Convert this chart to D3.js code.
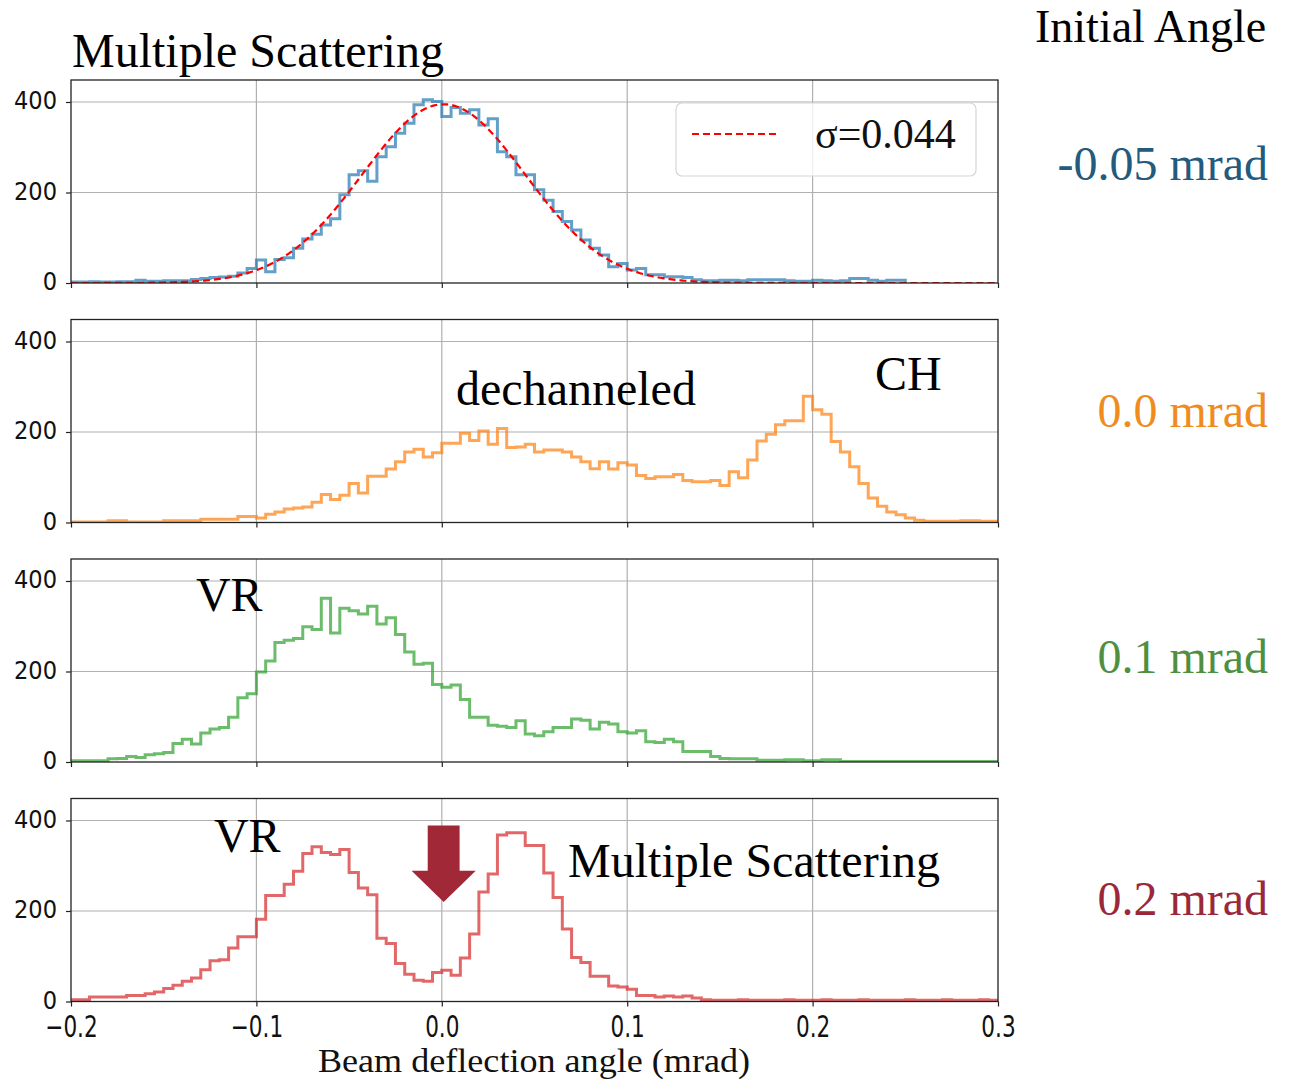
<!DOCTYPE html>
<html>
<head>
<meta charset="utf-8">
<script src="https://cdn.jsdelivr.net/npm/d3@7"></script>
<style>
body { margin: 0; background: #fff; }
svg text { font-family: "Liberation Serif", "Times New Roman", serif; }
.tick text { font-family: "DejaVu Sans", sans-serif; }
</style>
</head>
<body>
<div class="canvas"></div>
<script>
// histogram bins: 0.005 mrad wide, starting at -0.2
var BIN_START = -0.2;
var BIN_W = 0.005;

// counts per bin
var counts_m005 = [2, 2, 3, 2, 2, 3, 3, 6, 4, 4, 5, 5, 5, 8, 10, 12, 13, 15, 22,
	32, 51, 25, 52, 56, 77, 97, 108, 128, 142, 195, 239, 248, 225, 279, 301, 331, 353, 394, 405, 401,
	368, 388, 375, 383, 349, 363, 290, 279, 239, 239, 206, 183, 158, 136, 117, 95, 77, 62, 36, 43,
	29, 32, 18, 18, 14, 14, 12, 7, 5, 5, 6, 6, 5, 7, 7, 7, 7, 5, 4, 4,
	6, 5, 4, 5, 10, 10, 6, 4, 6, 6];
var counts_00 = [1, 1, 1, 1, 4, 4, 1, 1, 1, 1, 4, 4, 4, 4, 7, 7, 7, 7, 13, 13,
	10, 18, 23, 30, 32, 34, 45, 62, 51, 60, 86, 65, 102, 102, 118, 134, 156, 162, 145, 154,
	175, 175, 197, 181, 202, 173, 208, 166, 167, 173, 156, 160, 160, 156, 145, 134, 119, 134, 118, 132,
	127, 104, 97, 101, 101, 106, 93, 90, 90, 93, 82, 112, 99, 138, 180, 195, 216, 225, 225, 279,
	249, 239, 179, 156, 123, 86, 54, 36, 23, 17, 10, 5, 3, 3, 3, 3, 4, 4, 3, 3];
var counts_01 = [3, 3, 3, 3, 7, 8, 12, 10, 16, 18, 21, 41, 50, 40, 64, 73, 76, 99, 142, 151,
	199, 223, 264, 269, 273, 299, 293, 362, 285, 340, 334, 327, 344, 305, 319, 282, 243, 216, 218, 171,
	165, 170, 138, 99, 99, 81, 79, 76, 91, 62, 58, 67, 76, 76, 95, 92, 73, 88, 84, 67,
	64, 69, 45, 43, 50, 45, 23, 23, 23, 12, 8, 7, 7, 7, 4, 4, 4, 5, 5, 3,
	3, 5, 5, 1, 1, 1, 1, 1, 1, 1, 1, 1, 1, 1, 1, 1, 1, 1, 1, 1];
var counts_02 = [4, 4, 10, 10, 10, 10, 13, 13, 17, 21, 29, 36, 45, 52, 70, 90, 92, 118, 143, 143,
	182, 234, 234, 259, 288, 327, 342, 329, 325, 336, 285, 251, 236, 140, 128, 84, 60, 47, 45, 64,
	69, 58, 96, 149, 242, 282, 368, 373, 373, 345, 345, 284, 230, 160, 97, 86, 56, 56, 34, 32,
	27, 13, 13, 10, 12, 10, 12, 8, 4, 3, 3, 3, 4, 3, 3, 3, 3, 4, 3, 3,
	3, 4, 3, 3, 3, 4, 3, 3, 3, 3, 4, 3, 3, 3, 4, 3, 3, 3, 4, 3];

var series = [counts_m005, counts_00, counts_01, counts_02];
var series_cols = ['#1f77b4', '#ff7f0e', '#2ca02c', '#d62728'];
var angle_labels = ['-0.05 mrad', '0.0 mrad', '0.1 mrad', '0.2 mrad'];
var angle_cols = ['#235a7d', '#f08c1e', '#4f8f3f', '#9b2838'];

var x_ticks = [-0.2, -0.1, 0.0, 0.1, 0.2, 0.3];
var y_ticks = [0, 200, 400];

// gaussian fit shown on the first panel
var fit_mu = 0.001;
var fit_sigma = 0.044;
var fit_amp = 395;

// text annotations: panel, x (mrad), y (counts), text
var notes = [
	{p: 1, x: 0.0077, y: 260, t: 'dechanneled'},
	{p: 1, x: 0.2337, y: 293, t: 'CH'},
	{p: 2, x: -0.1326, y: 333, t: 'VR'},
	{p: 3, x: -0.1229, y: 331, t: 'VR'},
	{p: 3, x: 0.0681, y: 276, t: 'Multiple Scattering'}
];

var W = 1294, H = 1081;
var X0 = 71, X1 = 998;
var PANEL_TOP = 80, PANEL_H = 203, PANEL_STEP = 239.5;
var angle_dy = [100, 107, 114, 116];

var svg = d3.select('div.canvas').append('svg').attr('width', W).attr('height', H);

var x = d3.scaleLinear().domain([-0.2, 0.3]).range([X0, X1]);

function step_points(vals) {
	var pts = [[BIN_START, 0]];
	for (var i = 0; i < vals.length; ++i) {
		var e0 = BIN_START + i * BIN_W;
		pts.push([e0, vals[i]]);
		pts.push([e0 + BIN_W, vals[i]]);
	}
	pts.push([BIN_START + vals.length * BIN_W, 0]);
	return pts;
}

function draw_panel(k) {
	var top = PANEL_TOP + k * PANEL_STEP;
	var y = d3.scaleLinear().domain([0, 448.6]).range([top + PANEL_H, top]);
	var g = svg.append('g');

	g.append('clipPath').attr('id', 'clip' + k)
		.append('rect').attr('x', X0).attr('y', top).attr('width', X1 - X0).attr('height', PANEL_H);

	// grid
	g.selectAll('line.vg').data(x_ticks.slice(1, -1)).enter().append('line')
		.attr('x1', function(d) { return x(d); }).attr('x2', function(d) { return x(d); })
		.attr('y1', top).attr('y2', top + PANEL_H)
		.attr('stroke', '#b0b0b0').attr('stroke-width', 1.2);
	g.selectAll('line.hg').data(y_ticks.slice(1)).enter().append('line')
		.attr('x1', X0).attr('x2', X1)
		.attr('y1', function(d) { return y(d); }).attr('y2', function(d) { return y(d); })
		.attr('stroke', '#b0b0b0').attr('stroke-width', 1.2);

	var line = d3.line().x(function(d) { return x(d[0]); }).y(function(d) { return y(d[1]); });

	g.append('path')
		.attr('d', line(step_points(series[k])))
		.attr('fill', 'none')
		.attr('stroke', series_cols[k])
		.attr('stroke-opacity', 0.7)
		.attr('stroke-width', 3)
		.attr('clip-path', 'url(#clip' + k + ')');

	if (k == 0) {
		var fit = d3.range(-0.2, 0.3001, 0.001).map(function(v) {
			var z = (v - fit_mu) / fit_sigma;
			return [v, fit_amp * Math.exp(-0.5 * z * z)];
		});
		g.append('path')
			.attr('d', line(fit))
			.attr('fill', 'none')
			.attr('stroke', '#ff0000')
			.attr('stroke-width', 2.2)
			.attr('stroke-dasharray', '7,4')
			.attr('clip-path', 'url(#clip' + k + ')');
	}

	// axes
	var xa = d3.axisBottom(x).tickValues(x_ticks).tickSize(5).tickPadding(9)
		.tickFormat(k == 3 ? d3.format('.1f') : '');
	var gx = g.append('g').attr('transform', 'translate(0,' + (top + PANEL_H) + ')').call(xa);
	gx.select('.domain').remove();
	gx.selectAll('.tick line').attr('stroke', '#222').attr('stroke-width', 1.2);
	gx.selectAll('.tick text').attr('font-size', 30).attr('fill', '#111')
		.attr('transform', 'scale(0.72,1)')
		.attr('x', 0);

	var ya = d3.axisLeft(y).tickValues(y_ticks).tickSize(5).tickPadding(9);
	var gy = g.append('g').attr('transform', 'translate(' + X0 + ',0)').call(ya);
	gy.select('.domain').remove();
	gy.selectAll('.tick line').attr('stroke', '#222').attr('stroke-width', 1.2);
	gy.selectAll('.tick text').attr('font-size', 24).attr('fill', '#111')
		.attr('x', 0).attr('transform', 'translate(-14,-1) scale(0.94,1)');

	// frame
	g.append('rect').attr('x', X0).attr('y', top).attr('width', X1 - X0).attr('height', PANEL_H)
		.attr('fill', 'none').attr('stroke', '#222').attr('stroke-width', 1.3);

	// angle label on the right
	svg.append('text').attr('x', 1268).attr('y', top + angle_dy[k])
		.attr('text-anchor', 'end').attr('font-size', 48).attr('fill', angle_cols[k])
		.text(angle_labels[k]);

	return y;
}

var ys = [];
for (var k = 0; k < 4; ++k) {
	ys.push(draw_panel(k));
}

// legend of the fit
var leg = svg.append('g');
leg.append('rect').attr('x', 676).attr('y', 103).attr('width', 300).attr('height', 73)
	.attr('rx', 6).attr('fill', '#fff').attr('fill-opacity', 0.8)
	.attr('stroke', '#d6d6d6').attr('stroke-width', 1.2);
leg.append('line').attr('x1', 692).attr('x2', 778).attr('y1', 134).attr('y2', 134)
	.attr('stroke', '#ff0000').attr('stroke-width', 2.2).attr('stroke-dasharray', '7,4');
leg.append('text').attr('x', 815).attr('y', 148).attr('font-size', 42).attr('fill', '#111')
	.text('σ=' + fit_sigma.toFixed(3));

// arrow in last panel, drawn in data units
var ay = ys[3];
var arrow = [[-0.0076, 389], [0.0096, 389], [0.0096, 289], [0.0183, 289], [0.001, 220],
	[-0.0163, 289], [-0.0076, 289]];
svg.append('path')
	.attr('d', d3.line().x(function(d) { return x(d[0]); }).y(function(d) { return ay(d[1]); })(arrow) + 'Z')
	.attr('fill', '#a02837');

for (var i = 0; i < notes.length; ++i) {
	var n = notes[i];
	svg.append('text').attr('x', x(n.x)).attr('y', ys[n.p](n.y))
		.attr('font-size', 48).attr('fill', '#000').text(n.t);
}

svg.append('text').attr('x', 72).attr('y', 67).attr('font-size', 48).attr('fill', '#000')
	.text('Multiple Scattering');
svg.append('text').attr('x', 1035).attr('y', 42).attr('font-size', 46).attr('fill', '#000')
	.text('Initial Angle');

svg.append('text').attr('x', 534).attr('y', 1072).attr('text-anchor', 'middle')
	.attr('font-size', 34).attr('fill', '#111')
	.attr('textLength', 432).attr('lengthAdjust', 'spacingAndGlyphs')
	.text('Beam deflection angle (mrad)');
</script>
</body>
</html>
